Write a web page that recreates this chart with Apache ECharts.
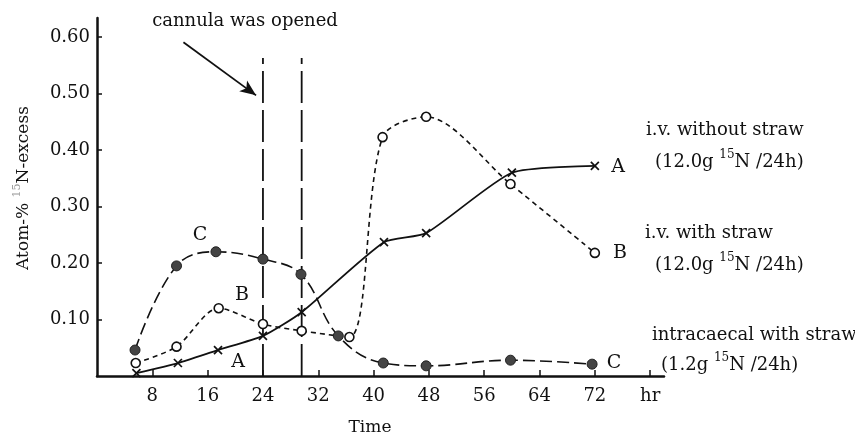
<!DOCTYPE html>
<html>
<head>
<meta charset="utf-8">
<script src="https://cdn.jsdelivr.net/npm/echarts@6/dist/echarts.min.js"></script>
<style>html,body{margin:0;padding:0;background:#fff}#c{width:855px;height:440px}</style>
</head>
<body>
<div id="c"></div>
<script>
// ---- data ----
var hoursA = [5.7, 11.7, 17.5, 24, 29.6, 41.5, 47.6, 60, 72];
var valuesA = [0.005, 0.023, 0.046, 0.071, 0.113, 0.237, 0.253, 0.36, 0.372];
var hoursB = [5.6, 11.5, 17.6, 24, 29.6, 36.5, 41.3, 47.6, 59.8, 72];
var valuesB = [0.023, 0.052, 0.12, 0.092, 0.08, 0.069, 0.423, 0.459, 0.34, 0.218];
var hoursC = [5.5, 11.5, 17.2, 24, 29.5, 34.9, 41.4, 47.6, 59.8, 71.6];
var valuesC = [0.046, 0.195, 0.22, 0.207, 0.18, 0.071, 0.023, 0.018, 0.028, 0.021];
var cannulaTimes = [24, 29.6];
var cannulaTop = 0.563;
var arrowFrom = [12.5, 0.591];
var arrowTo = [23.0, 0.497];
var xTicks = [8, 16, 24, 32, 40, 48, 56, 64, 72];
var yTicks = [0.1, 0.2, 0.3, 0.4, 0.5, 0.6];

function zip(xs, ys) { return xs.map(function (x, i) { return [x, ys[i]]; }); }

var FONT = '"DejaVu Serif", "Liberation Serif", serif';
var INK = '#111';

var series = [
  {
    type: 'line', name: 'A', data: zip(hoursA, valuesA), smooth: 0.2,
    symbol: 'path://M0,0L10,10M10,0L0,10', symbolSize: 8,
    itemStyle: { color: 'none', borderColor: INK, borderWidth: 1.7 },
    lineStyle: { color: INK, width: 1.8, type: 'solid' }, z: 3
  },
  {
    type: 'line', name: 'B', data: zip(hoursB, valuesB), smooth: 0.3,
    symbol: 'circle', symbolSize: 9,
    itemStyle: { color: '#fff', borderColor: INK, borderWidth: 1.6 },
    lineStyle: { color: INK, width: 1.6, type: [5, 4] }, z: 4
  },
  {
    type: 'line', name: 'C', data: zip(hoursC, valuesC), smooth: 0.4,
    symbol: 'circle', symbolSize: 10,
    itemStyle: { color: '#444', borderColor: '#222', borderWidth: 1 },
    lineStyle: { color: INK, width: 1.6, type: [12, 5] }, z: 4,
    markLine: {
      silent: true, symbol: ['none', 'arrow'], symbolSize: [10, 16],
      label: { show: false },
      lineStyle: { color: INK, width: 1.8, type: 'solid' },
      data: [[{ coord: arrowFrom }, { coord: arrowTo }]]
    }
  }
];
cannulaTimes.forEach(function (t) {
  series.push({
    type: 'line', data: [[t, 0], [t, cannulaTop]], symbol: 'none',
    lineStyle: { color: INK, width: 1.8, type: [32, 7] }, z: 2, silent: true
  });
});

function txt(x, y, s, size, align) {
  return { type: 'text', x: x, y: y, style: { text: s, font: size + 'px ' + FONT, fill: INK, align: align || 'center', verticalAlign: 'middle' } };
}
function supTxt(x, y, pre, post) {
  return { type: 'text', x: x, y: y, style: { text: '{n|' + pre + '}{s|15}{n|' + post + '}', align: 'left', verticalAlign: 'middle',
    rich: { n: { font: '18px ' + FONT, fill: INK, lineHeight: 22, verticalAlign: 'bottom' },
            s: { font: '12px ' + FONT, fill: INK, lineHeight: 22, verticalAlign: 'top' } } } };
}

var chart = echarts.init(document.getElementById('c'));
chart.setOption({
  backgroundColor: '#fff',
  animation: false,
  grid: { left: 97, right: 191, top: 18, bottom: 64 },
  xAxis: {
    type: 'value', min: 0, max: 82, interval: 8,
    splitLine: { show: false },
    axisLine: { onZero: false, lineStyle: { color: INK, width: 2.5 } },
    axisTick: { inside: true, length: 6, lineStyle: { color: INK, width: 1.5 } },
    axisLabel: {
      margin: 11, fontFamily: FONT, fontSize: 18, color: INK,
      showMaxLabel: false, showMinLabel: false,
      formatter: function (v) { if (v === 80) return 'hr'; return xTicks.indexOf(v) >= 0 ? String(v) : ''; }
    }
  },
  yAxis: {
    type: 'value', min: 0, max: 0.634, interval: 0.1,
    splitLine: { show: false },
    axisLine: { lineStyle: { color: INK, width: 2.5 } },
    axisTick: { inside: true, length: 5, lineStyle: { color: INK, width: 1.5 } },
    axisLabel: {
      margin: 7, fontFamily: FONT, fontSize: 18, color: INK,
      showMaxLabel: false, showMinLabel: false,
      formatter: function (v) {
        for (var i = 0; i < yTicks.length; i++) if (Math.abs(yTicks[i] - v) < 1e-6) return yTicks[i].toFixed(2);
        return '';
      }
    }
  },
  graphic: [
    txt(245, 21, 'cannula was opened', 18),
    txt(370, 428, 'Time', 17),
    { type: 'text', x: 22, y: 188, rotation: Math.PI / 2,
      style: { text: '{n|Atom-% }{s|15}{n|N-excess}', align: 'center', verticalAlign: 'middle', fill: INK,
        rich: { n: { font: '17px ' + FONT, fill: INK, lineHeight: 20, verticalAlign: 'bottom' },
                s: { font: '11px ' + FONT, fill: '#999', lineHeight: 20, verticalAlign: 'top' } } } },
    // curve labels
    txt(200, 235, 'C', 19), txt(242, 295, 'B', 19), txt(238, 362, 'A', 19),
    txt(618, 167, 'A', 19), txt(620, 253, 'B', 19), txt(614, 363, 'C', 19),
    // right annotations
    txt(646, 130, 'i.v. without straw', 18, 'left'),
    supTxt(655, 160, '(12.0g ', 'N /24h)'),
    txt(645, 233, 'i.v. with straw', 18, 'left'),
    supTxt(655, 263, '(12.0g ', 'N /24h)'),
    txt(652, 335, 'intracaecal with straw', 18, 'left'),
    supTxt(661, 363, '(1.2g ', 'N /24h)')
  ],
  series: series
});
</script>
</body>
</html>
